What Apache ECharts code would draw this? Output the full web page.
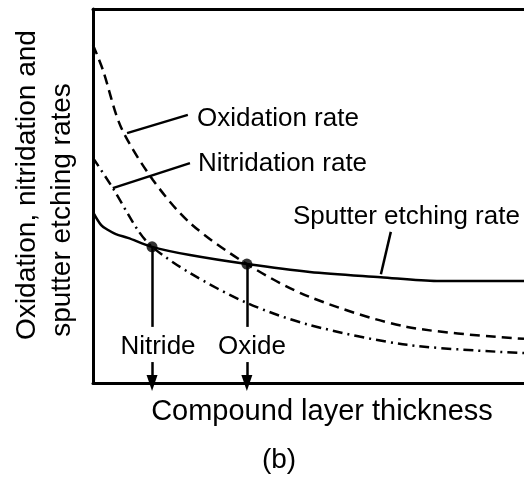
<!DOCTYPE html>
<html>
<head>
<meta charset="utf-8">
<script src="https://cdn.jsdelivr.net/npm/echarts@6/dist/echarts.min.js"></script>
<style>
  html, body { margin: 0; padding: 0; background: #fff; }
  #main { width: 524px; height: 481px; }
</style>
</head>
<body>
<div id="main"></div>
<script>
// x: compound layer thickness (0..100), y: rate (0..100), arbitrary units
var oxidation = [
  [0, 90.4], [2.3, 83.7], [6.5, 68.4], [13.9, 54.3], [22.5, 42.8],
  [35.7, 31.8], [50.3, 23.0], [72.9, 15.0], [100, 11.8]
]
var nitridation = [
  [0, 60.2], [4.6, 52.1], [10.4, 40.9], [13.7, 36.4], [22.5, 29.4],
  [35.7, 21.4], [50.3, 15.5], [72.9, 10.2], [100, 8.0]
]
var sputter = [
  [0, 45.7], [1.9, 42.2], [3.5, 40.9], [5.3, 39.8], [8.1, 38.8], [13.7, 36.4],
  [22.5, 34.2], [35.7, 31.8], [50.3, 29.7], [66.8, 28.3], [79.8, 27.3], [100, 27.3]
]
// crossing points: nitride / oxide
var crossings = [[13.7, 36.4], [35.7, 31.8]]
var dropEnd = 15.0      // vertical drop line stops above the labels
var arrowStart = 5.6    // arrows restart below the labels
var leaders = [
  [[7.9, 66.8], [22.0, 71.7]],   // Oxidation rate
  [[4.6, 52.1], [22.5, 58.8]],   // Nitridation rate
  [[66.8, 29.1], [69.1, 40.4]]   // Sputter etching rate
]

var FONT = '"Liberation Sans", Arial, sans-serif'
var chart = echarts.init(document.getElementById("main"))

var axisLine = { show: true, lineStyle: { color: "#000", width: 3 } }

function plainLine(p, q) {
  return [{ coord: p }, { coord: q }]
}

var dropLines = crossings.map(function (c) {
  return plainLine(c, [c[0], dropEnd])
})
var arrowLines = crossings.map(function (c) {
  return [{ coord: [c[0], arrowStart], symbol: "none" }, { coord: [c[0], 0], symbol: "triangle", symbolSize: [11, 16], symbolRotate: 180 }]
})
var leaderLines = leaders.map(function (l) {
  return plainLine(l[0], l[1])
})

function txt(text, x, y, size, align, rot) {
  return {
    type: "text",
    x: x,
    y: y,
    rotation: rot || 0,
    style: {
      text: text,
      fontSize: size,
      fontFamily: FONT,
      fill: "#000",
      align: align || "left",
      verticalAlign: "middle",
    },
    z: 100,
  }
}

var option = {
  animation: false,
  backgroundColor: "#fff",
  grid: { left: 93, top: 9, right: 0, bottom: 98 },
  xAxis: [
    {
      type: "value", min: 0, max: 100, position: "bottom",
      axisLine: axisLine, axisTick: { show: false }, axisLabel: { show: false }, splitLine: { show: false },
    },
    {
      type: "value", min: 0, max: 100, position: "top",
      axisLine: axisLine, axisTick: { show: false }, axisLabel: { show: false }, splitLine: { show: false },
    },
  ],
  yAxis: {
    type: "value", min: 0, max: 100,
    axisLine: axisLine, axisTick: { show: false }, axisLabel: { show: false }, splitLine: { show: false },
  },
  series: [
    {
      name: "Oxidation rate",
      type: "line",
      data: oxidation,
      smooth: 0.3,
      showSymbol: false,
      lineStyle: { color: "#000", width: 2.5, type: [10, 6] },
    },
    {
      name: "Nitridation rate",
      type: "line",
      data: nitridation,
      smooth: 0.3,
      showSymbol: false,
      lineStyle: { color: "#000", width: 2.5, type: [10, 5, 2, 5] },
    },
    {
      name: "Sputter etching rate",
      type: "line",
      data: sputter,
      smooth: 0.3,
      showSymbol: false,
      lineStyle: { color: "#000", width: 2.5 },
      markLine: {
        silent: true,
        symbol: "none",
        label: { show: false },
        lineStyle: { color: "#000", width: 2.5, type: "solid" },
        data: dropLines.concat(leaderLines).concat(arrowLines),
      },
    },
    {
      type: "scatter",
      data: crossings,
      symbol: "circle",
      symbolSize: 11,
      itemStyle: { color: "#000" },
      z: 10,
    },
  ],
  graphic: [
    txt("Oxidation rate", 197, 119, 26),
    txt("Nitridation rate", 198, 164, 26),
    txt("Sputter etching rate", 293, 217, 26),
    txt("Nitride", 158, 347, 26, "center"),
    txt("Oxide", 252, 347, 26, "center"),
    txt("Compound layer thickness", 322, 412, 29, "center"),
    txt("(b)", 279, 460, 28, "center"),
    txt("Oxidation, nitridation and", 27, 185, 28, "center", Math.PI / 2),
    txt("sputter etching rates", 62, 210, 28, "center", Math.PI / 2),
  ],
}

chart.setOption(option)
</script>
</body>
</html>
